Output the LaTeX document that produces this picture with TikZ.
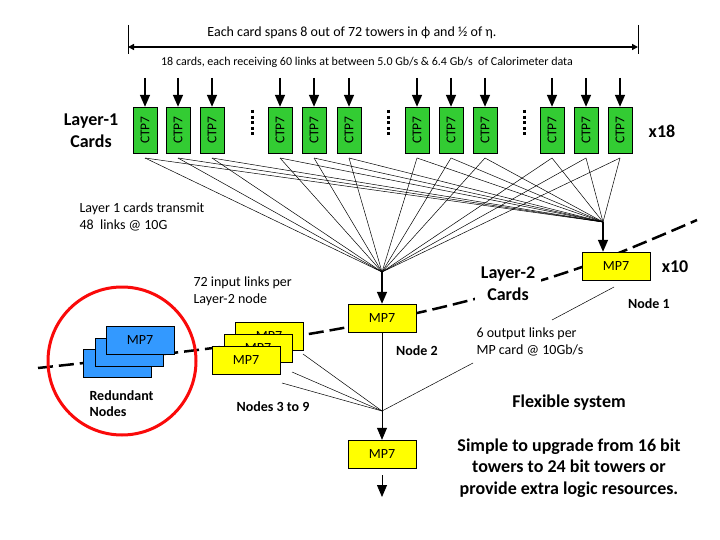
\documentclass[tikz,border=0pt]{standalone}
\usepackage{fontspec}
\setmainfont{Carlito}
\usepackage{tikz}
\usetikzlibrary{arrows.meta, positioning}
\definecolor{ctpgreen}{RGB}{51,204,51}
\definecolor{mpyellow}{RGB}{255,255,0}
\definecolor{mpblue}{RGB}{51,153,255}
\definecolor{ringred}{RGB}{250,10,10}
\tikzset{
    card/.style={rectangle, draw, fill=ctpgreen, minimum width=46pt, minimum height=24pt, inner sep=0pt, rotate=90, font=\fontsize{13.5}{14}\selectfont},
    mp/.style={rectangle, draw, fill=mpyellow, minimum width=68pt, minimum height=28pt, inner sep=0pt, font=\fontsize{14}{15}\selectfont},
    spare/.style={mp, fill=mpblue},
    link/.style={-, line width=0.5pt},
    feed/.style={-{Triangle[width=10pt,length=12pt]}, line width=1.5pt},
    drop/.style={-{Triangle[width=10pt,length=12pt]}, line width=0.8pt},
    heading/.style={font=\fontsize{18}{22}\selectfont\bfseries, align=center},
    tag/.style={font=\fontsize{14}{16}\selectfont\bfseries, align=left},
    note/.style={font=\fontsize{14}{17}\selectfont, align=left, anchor=west}
}

\begin{document}
\begin{tikzpicture}[
    x=1pt, y=-1pt,
    span/.style={{Triangle[width=6pt,length=6pt]}-{Triangle[width=6pt,length=6pt]}, line width=1.5pt},
    boundary/.style={line width=2.5pt, dash pattern=on 15pt off 6pt}
]
    \useasboundingbox (0,0) rectangle (720,540);

    % Span of one card
    \coordinate (sl) at (128,47);
    \coordinate (sr) at (638,47);
    \draw[thin] (128,25) -- (128,54);
    \draw[thin] (638,25) -- (638,54);
    \draw[span] (sl) -- (sr);
    \node[font=\fontsize{14}{16}\selectfont] (spantxt) at (352,33) {Each card spans 8 out of 72 towers in ϕ and ½ of η.};
    \node[font=\fontsize{12}{14}\selectfont] (linktxt) at (367,62) {18 cards, each receiving 60 links at between 5.0 Gb/s \& 6.4 Gb/s\ \ of Calorimeter data};

    % Layer-2 boundary
    \draw[boundary] plot[smooth, tension=0.6] coordinates {(38,368) (213,348) (343,328) (463,302) (582,267) (697,220)};

    % Junctions
    \coordinate (j2) at (382,272);
    \coordinate (j1) at (603,222);
    \coordinate (j3) at (382,411);

    % Layer-1 cards
    \foreach \x [count=\i] in {145,178,212,280,314,349,417,451,485,552,586,620} {
        \coordinate (in\i) at (\x,78);
        \coordinate (out\i) at (\x,158);
        \node[card] (c\i) at (\x,130) {CTP7};
        \draw[feed] (in\i) -- (c\i);
        \draw[link] (out\i) -- (j2);
        \draw[link] (out\i) -- (j1);
    }
    \foreach \x in {252,388,524}
        \draw[line width=3pt, dash pattern=on 3pt off 2.6pt] (\x,110) -- (\x,137);

    \node[heading] (l1) at (91,131) {Layer-1\\Cards};
    \node[heading] (x18) at (662,131) {x18};

    % Layer-2 cards
    \node[mp] (n1) at (616,266) {MP7};
    \node[mp] (n2) at (382,318) {MP7};
    \node[mp] (y9) at (269,336) {MP7};
    \node[mp] (y8) at (258,348) {MP7};
    \node[mp] (y7) at (246,360) {MP7};
    \node[spare] (b3) at (117,363) {};
    \node[spare] (b2) at (129,352) {};
    \node[spare] (b1) at (140,340) {MP7};
    \node[mp] (m3) at (382,454) {MP7};
    \draw[ringred, line width=3pt] (122,361) circle (74);

    \draw[feed] (j2) -- (n2);
    \draw[feed] (j1) -- (j1 |- n1.north);

    % Links into node 3
    \coordinate (s9) at (303,354);
    \coordinate (s8) at (292,372);
    \coordinate (s7) at (282,383);
    \coordinate (n1c) at (614,287);
    \coordinate (t1) at (552,320);
    \coordinate (t2) at (473,363);
    \draw[link] (s9) -- (j3);
    \draw[link] (s8) -- (j3);
    \draw[link] (s7) -- (j3);
    \draw[link] (n2) -- (j3);
    \draw[link] (t2) -- (j3);
    \draw[link] (n1c) -- (t1);
    \draw[drop] (j3) -- (m3);
    \coordinate (fin) at (382,497);
    \draw[drop, shorten <=7pt] (m3) -- (fin);

    % Labels
    \node[heading, fill=white, inner sep=6pt] (l2) at (508,284) {Layer-2\\Cards};
    \node[heading] (x10) at (675,267) {x10};
    \node[tag] (node1) at (649,304) {Node 1};
    \node[tag] (node2) at (417,351) {Node 2};
    \node[tag] (node39) at (273,407) {Nodes 3 to 9};
    \node[tag, anchor=west] (red) at (86,404) {Redundant\\Nodes};
    \node[note] (tx1) at (76,217) {Layer 1 cards transmit\\48\ \ links @ 10G};
    \node[note] (tx2) at (190,291) {72 input links per\\Layer-2 node};
    \node[note] (tx3) at (473,342) {6 output links per\\MP card @ 10Gb/s};
    \node[heading] (flex) at (569,403) {Flexible system};
    \node[heading, font=\fontsize{18}{21.5}\selectfont\bfseries] (simple) at (569,468) {Simple to upgrade from 16 bit\\towers to 24 bit towers or\\provide extra logic resources.};
\end{tikzpicture}
\end{document}
